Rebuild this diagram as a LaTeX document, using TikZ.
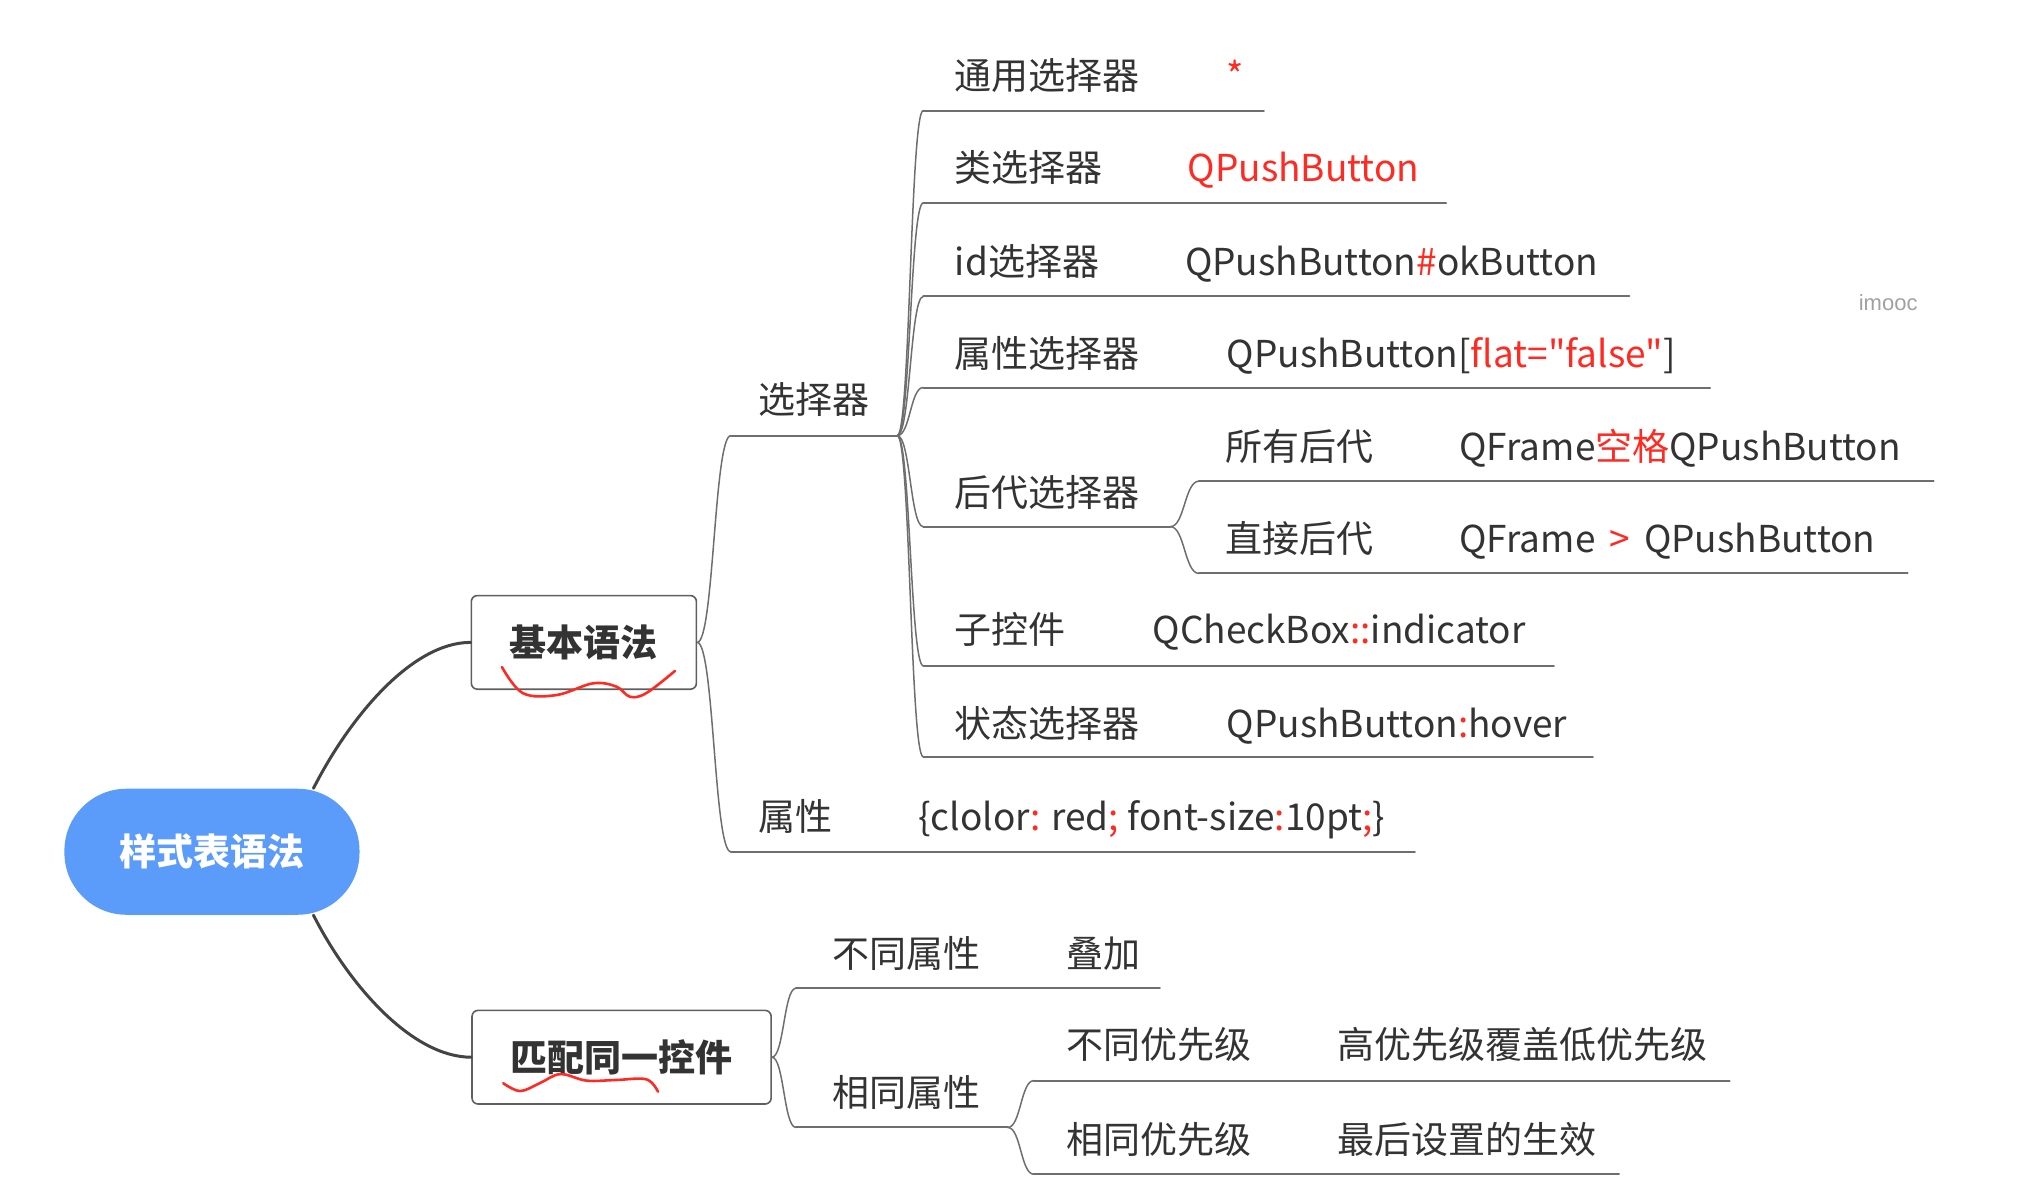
\documentclass[tikz,border=0pt]{standalone}
\usepackage{fontspec}
\newfontfamily\cjk{Noto Sans CJK SC}
\newfontfamily\wmfont{Liberation Sans}
\usepackage{xcolor}
\usetikzlibrary{calc}
\definecolor{rootblue}{HTML}{5B9BF9}
\definecolor{txtgray}{HTML}{333333}
\definecolor{linegray}{HTML}{6E6E6E}
\definecolor{trunkgray}{HTML}{444444}
\definecolor{boxgray}{HTML}{5F5F5F}
\definecolor{accent}{HTML}{FF2A22}
\definecolor{wmgray}{HTML}{A0A0A0}
\newcommand{\kw}[1]{\textcolor{accent}{#1}}
\tikzset{
  topic/.style={anchor=west,inner sep=0pt,text height=15.4pt,text depth=1.3pt,text=txtgray,font=\cjk\fontsize{18.5}{22}\selectfont},
  uline/.style={draw=linegray,line width=1pt},
  branch/.style={draw=linegray,line width=0.75pt,to path={let \p1=(\tikztostart),\p2=(\tikztotarget) in .. controls ({(\x1+\x2)/2},\y1) and ({(\x1+\x2)/2},\y2) .. (\tikztotarget)}},
  trunk/.style={draw=trunkgray,line width=1.5pt},
  mainbox/.style={draw=boxgray,line width=0.8pt,rounded corners=3pt,fill=white,text=txtgray,font=\cjk\fontsize{18.5}{22}\selectfont\bfseries,minimum height=46.8pt},
  scribble/.style={draw=accent,line width=1.3pt}
}

\begin{document}
\begin{tikzpicture}[line cap=round,line join=round,x=0.65pt,y=-0.65pt]
\useasboundingbox (0,0) rectangle (1568,914);

\node[fill=rootblue,rounded corners=31pt,minimum width=147.5pt,minimum height=63pt,text=white,font=\cjk\fontsize{18.5}{22}\selectfont\bfseries] (root) at (163,655) {样式表语法};
\node[mainbox,minimum width=112.5pt] (basic) at (449,494) {基本语法};
\node[mainbox,minimum width=149.5pt] (match) at (478,813) {匹配同一控件};
\draw[trunk] (root.32) .. controls ($(root.32)+(28,-55)$) and ($(basic.west)+(-45,0)$) .. (basic.west);
\draw[trunk] (root.-32) .. controls ($(root.-32)+(28,55)$) and ($(match.west)+(-45,0)$) .. (match.west);

% basic syntax
\coordinate (sel-s) at (562,335); \coordinate (sel-e) at (690,335);
\coordinate (prop-s) at (562,655); \coordinate (prop-e) at (1088,655);
\node[topic] (sel) at (583,307) {选择器};
\node[topic] (prop) at (583,628) {属性};
\node[topic] (prop-v) at (706,628) {\{clolor\kw{:} red\kw{;} font-size\kw{:}10pt\kw{;}\}};
\draw[uline] (sel-s) -- (sel-e);
\draw[uline] (prop-s) -- (prop-e);
\draw[branch] (basic.east) to (sel-s);
\draw[branch] (basic.east) to (prop-s);

\coordinate (gen-s) at (710,85); \coordinate (gen-e) at (972,85);
\coordinate (cls-s) at (710,156); \coordinate (cls-e) at (1112,156);
\coordinate (id-s) at (710,228); \coordinate (id-e) at (1253,228);
\coordinate (atr-s) at (710,298); \coordinate (atr-e) at (1315,298);
\coordinate (desc-s) at (710,405); \coordinate (desc-e) at (900,405);
\coordinate (sub-s) at (710,512); \coordinate (sub-e) at (1195,512);
\coordinate (state-s) at (710,582); \coordinate (state-e) at (1225,582);
\node[topic] (gen) at (734,58) {通用选择器};
\node[topic] (gen-v) at (943,58) {\kw{*}};
\node[topic] (cls) at (734,129) {类选择器};
\node[topic] (cls-v) at (913,129) {\kw{QPushButton}};
\node[topic] (id) at (734,201) {id选择器};
\node[topic] (id-v) at (911,201) {QPushButton\kw{\#}okButton};
\node[topic] (atr) at (734,272) {属性选择器};
\node[topic] (atr-v) at (943,272) {QPushButton[\kw{flat="false"}]};
\node[topic] (desc) at (734,379) {后代选择器};
\node[topic] (sub) at (734,484) {子控件};
\node[topic] (sub-v) at (886,484) {QCheckBox\kw{::}indicator};
\node[topic] (state) at (734,556) {状态选择器};
\node[topic] (state-v) at (943,556) {QPushButton\kw{:}hover};
\foreach \t in {gen,cls,id,atr,desc,sub,state}{
  \draw[uline] (\t-s) -- (\t-e);
  \draw[branch] (sel-e) to (\t-s);
}

\coordinate (all-s) at (922,370); \coordinate (all-e) at (1487,370);
\coordinate (dir-s) at (922,441); \coordinate (dir-e) at (1467,441);
\node[topic] (all) at (942,343) {所有后代};
\node[topic] (all-v) at (1122,343) {QFrame\kw{空格}QPushButton};
\node[topic] (dir) at (942,414) {直接后代};
\node[topic] (dir-v) at (1122,414) {QFrame\hspace{7pt}\kw{>}\hspace{7pt}QPushButton};
\draw[uline] (all-s) -- (all-e);
\draw[uline] (dir-s) -- (dir-e);
\draw[branch] (desc-e) to (all-s);
\draw[branch] (desc-e) to (dir-s);

% same widget
\coordinate (diff-s) at (612,760); \coordinate (diff-e) at (892,760);
\coordinate (same-s) at (612,867); \coordinate (same-e) at (775,867);
\node[topic] (diff) at (640,733) {不同属性};
\node[topic] (diff-v) at (820,733) {叠加};
\node[topic] (same) at (640,840) {相同属性};
\draw[uline] (diff-s) -- (diff-e);
\draw[uline] (same-s) -- (same-e);
\draw[branch] (match.east) to (diff-s);
\draw[branch] (match.east) to (same-s);

\coordinate (lvl-s) at (795,831); \coordinate (lvl-e) at (1330,831);
\coordinate (eq-s) at (795,903); \coordinate (eq-e) at (1245,903);
\node[topic] (lvl) at (820,803) {不同优先级};
\node[topic] (lvl-v) at (1028,803) {高优先级覆盖低优先级};
\node[topic] (eq) at (820,876) {相同优先级};
\node[topic] (eq-v) at (1028,876) {最后设置的生效};
\draw[uline] (lvl-s) -- (lvl-e);
\draw[uline] (eq-s) -- (eq-e);
\draw[branch] (same-e) to (lvl-s);
\draw[branch] (same-e) to (eq-s);

\node[font=\wmfont\fontsize{11}{13}\selectfont,text=wmgray] (wm) at (1452,233) {imooc};

\draw[scribble] plot[smooth,tension=0.6] coordinates {(386,513) (402,533) (428,534.5) (456,525.5) (474,528) (484.5,535.8) (497,533) (519,516)};
\draw[scribble] plot[smooth,tension=0.6] coordinates {(387,833) (400,839) (415,833) (431,826) (451,831) (474,830.5) (497,830) (506,839.5)};
\end{tikzpicture}
\end{document}
